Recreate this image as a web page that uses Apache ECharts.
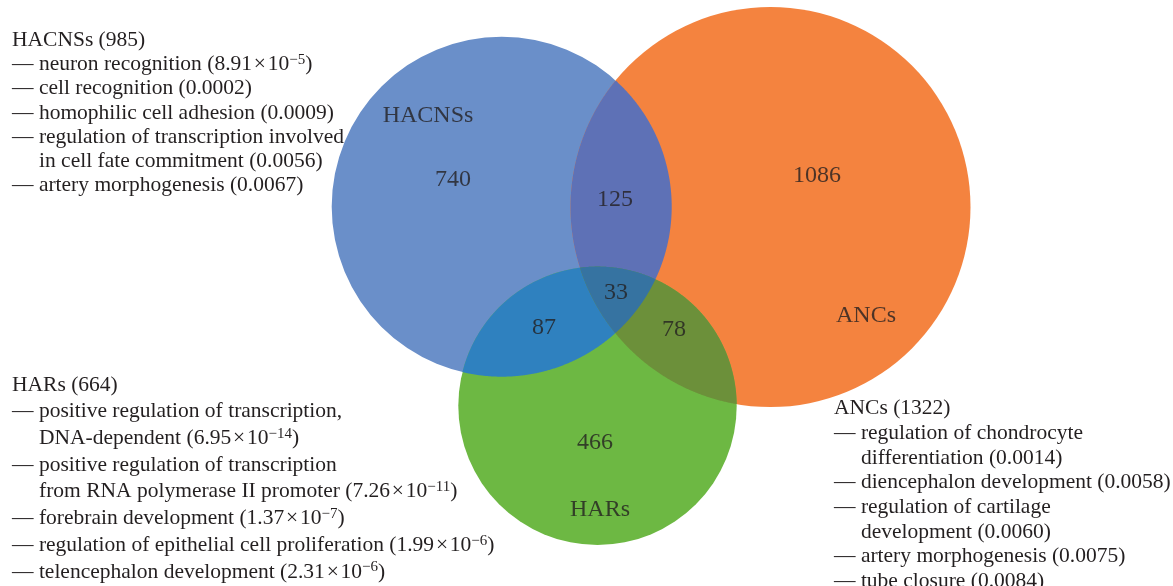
<!DOCTYPE html>
<html><head><meta charset="utf-8">
<script src="https://cdn.jsdelivr.net/npm/echarts@6/dist/echarts.min.js"></script>
<style>html,body{margin:0;padding:0;background:#fff}#c{width:1173px;height:586px}</style>
</head><body><div id="c"></div>
<script>
// ---- data ----
const setNames = ['HACNSs', 'ANCs', 'HARs'];
const setSizes = [985, 1322, 664];
// circle geometry in chart units (x to the right, y downward)
const circleX = [501.7, 770.5, 597.5];
const circleY = [206.7, 207.0, 405.8];
const circleR = [170.0, 200.0, 139.2];
// regions of the diagram: member sets and counts
const regionSets = [[0], [1], [2], [0, 1], [0, 2], [1, 2], [0, 1, 2]];
const regionCounts = [740, 1086, 466, 125, 87, 78, 33];
const regionLabelX = [453, 817, 595, 615, 544, 674, 616];
const regionLabelY = [180, 176, 443, 200, 328, 330, 293];
const setLabelX = [428, 866, 600];
const setLabelY = [116, 316, 510];

// GO terms per set (wrapped lines) and p-values [mantissa, exponent]
const hacnsTerms = [['neuron recognition'], ['cell recognition'], ['homophilic cell adhesion'],
  ['regulation of transcription involved', 'in cell fate commitment'], ['artery morphogenesis']];
const hacnsP = [['8.91', '−5'], ['0.0002'], ['0.0009'], ['0.0056'], ['0.0067']];
const harsTerms = [['positive regulation of transcription,', 'DNA-dependent'],
  ['positive regulation of transcription', 'from RNA polymerase II promoter'],
  ['forebrain development'], ['regulation of epithelial cell proliferation'], ['telencephalon development']];
const harsP = [['6.95', '−14'], ['7.26', '−11'], ['1.37', '−7'], ['1.99', '−6'], ['2.31', '−6']];
const ancsTerms = [['regulation of chondrocyte', 'differentiation'], ['diencephalon development'],
  ['regulation of cartilage', 'development'], ['artery morphogenesis'], ['tube closure']];
const ancsP = [['0.0014'], ['0.0058'], ['0.0060'], ['0.0075'], ['0.0084']];

// ---- styles ----
const regionColors = ['#6A8FC9', '#F4833F', '#6DB843', '#5E71B6', '#2F81BF', '#6C903A', '#3673A1'];
const ink = '#231F20';
const serif = '"Liberation Serif", "Times New Roman", serif';

function pText(p) {
  if (p.length === 2) return '(' + p[0] + '\u200a×\u200a10{s|' + p[1] + '})';
  return '(' + p[0] + ')';
}
function buildLines(title, size, terms, ps) {
  const out = [{ text: title + ' (' + size + ')', indent: false }];
  terms.forEach((t, i) => {
    t.forEach((ln, j) => {
      let s = (j === 0 ? '— ' : '') + ln;
      if (j === t.length - 1) s += ' ' + pText(ps[i]);
      out.push({ text: s, indent: j > 0 });
    });
  });
  return out;
}
const blocks = [
  { lines: buildLines(setNames[0], setSizes[0], hacnsTerms, hacnsP), x: 12, y: 40, step: 24.3 },
  { lines: buildLines(setNames[2], setSizes[2], harsTerms, harsP), x: 12, y: 385, step: 26.7 },
  { lines: buildLines(setNames[1], setSizes[1], ancsTerms, ancsP), x: 834, y: 408.5, step: 24.7 }
];
const graphics = [];
blocks.forEach(b => {
  b.lines.forEach((ln, i) => {
    graphics.push({
      type: 'text', x: b.x + (ln.indent ? 27 : 0), y: b.y + i * b.step, silent: true,
      style: {
        text: ln.text, fill: ink, fontSize: 21.5, fontFamily: serif, verticalAlign: 'middle', lineHeight: 24,
        rich: { s: { fontSize: 15, fontFamily: serif, fill: ink, lineHeight: 10, verticalAlign: 'top' } }
      }
    });
  });
});

function regionPolygon(members, pc) {
  const N = 1440, pts = [];
  members.forEach(i => {
    for (let k = 0; k < N; k++) {
      const a = 2 * Math.PI * k / N;
      const x = pc[i].cx + pc[i].r * Math.cos(a), y = pc[i].cy + pc[i].r * Math.sin(a);
      let inside = true;
      members.forEach(j => {
        if (j !== i && Math.hypot(x - pc[j].cx, y - pc[j].cy) > pc[j].r + 0.01) inside = false;
      });
      if (inside) pts.push([x, y]);
    }
  });
  let mx = 0, my = 0;
  pts.forEach(p => { mx += p[0]; my += p[1]; });
  mx /= pts.length; my /= pts.length;
  pts.sort((p, q) => Math.atan2(p[1] - my, p[0] - mx) - Math.atan2(q[1] - my, q[0] - mx));
  return pts;
}

const chart = echarts.init(document.getElementById('c'), null, { renderer: 'canvas' });
chart.setOption({
  animation: false,
  backgroundColor: '#ffffff',
  grid: { left: 0, right: 0, top: 0, bottom: 0 },
  xAxis: { type: 'value', min: 0, max: 1173, show: false },
  yAxis: { type: 'value', min: 0, max: 586, inverse: true, show: false },
  graphic: graphics,
  series: [
    {
      type: 'custom', coordinateSystem: 'cartesian2d', silent: true, clip: false,
      data: regionSets.map((s, i) => [i]),
      encode: { x: -1, y: -1 },
      renderItem: function (params, api) {
        const idx = params.dataIndex;
        const members = regionSets[idx];
        const pc = circleX.map((cx, i) => {
          const c = api.coord([cx, circleY[i]]);
          return { cx: c[0], cy: c[1], r: api.size([circleR[i], 0])[0] };
        });
        if (members.length === 1) {
          const c = pc[members[0]];
          return { type: 'circle', shape: { cx: c.cx, cy: c.cy, r: c.r }, style: { fill: regionColors[idx] } };
        }
        return { type: 'polygon', shape: { points: regionPolygon(members, pc) }, style: { fill: regionColors[idx] } };
      }
    },
    {
      type: 'scatter', silent: true, symbolSize: 1, itemStyle: { color: 'rgba(0,0,0,0)' },
      data: regionCounts.map((c, i) => [regionLabelX[i], regionLabelY[i], c]),
      label: { show: true, position: 'inside', formatter: p => String(p.value[2]), fontSize: 24, fontFamily: serif, color: ink }
    },
    {
      type: 'scatter', silent: true, symbolSize: 1, itemStyle: { color: 'rgba(0,0,0,0)' },
      data: setNames.map((n, i) => [setLabelX[i], setLabelY[i], n]),
      label: { show: true, position: 'inside', formatter: p => p.value[2], fontSize: 24, fontFamily: serif, color: ink }
    }
  ]
});
</script></body></html>
